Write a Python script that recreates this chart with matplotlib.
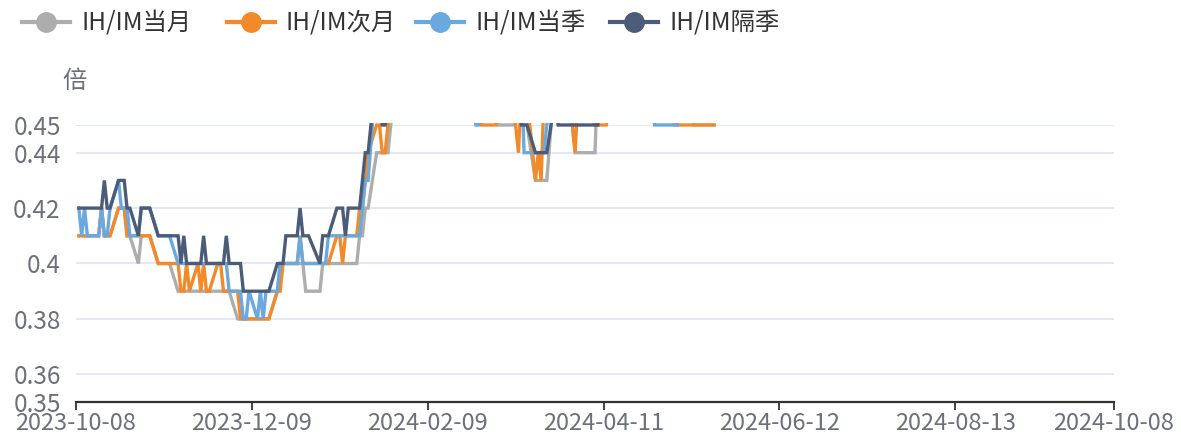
import matplotlib
matplotlib.use("Agg")
import matplotlib.pyplot as plt
import pandas as pd
from matplotlib.lines import Line2D
from matplotlib.patches import Rectangle

plt.rcParams['font.family'] = ['Noto Sans CJK SC', 'DejaVu Sans']

# ---------------- data ----------------
# trading days (China futures calendar) 2023-10-09 .. 2024-05-20
start_date = '2023-10-09'
end_date = '2024-05-20'
holidays = ['2024-01-01', '2024-02-09', '2024-02-12', '2024-02-13', '2024-02-14',
            '2024-02-15', '2024-02-16', '2024-04-04', '2024-04-05',
            '2024-05-01', '2024-05-02', '2024-05-03']
dates = [d for d in pd.bdate_range(start_date, end_date)
         if d.strftime('%Y-%m-%d') not in holidays]

series_names = ['IH/IM当月', 'IH/IM次月', 'IH/IM当季', 'IH/IM隔季']

ih_im_current_month = [
    0.41, 0.41, 0.41, 0.41, 0.41, 0.41, 0.42, 0.41, 0.41, 0.41,
    0.42, 0.42, 0.42, 0.41, 0.41, 0.40, 0.41, 0.41, 0.41, 0.41,
    0.40, 0.40, 0.40, 0.40, 0.40, 0.39, 0.39, 0.39, 0.39, 0.39,
    0.39, 0.39, 0.39, 0.39, 0.39, 0.39, 0.39, 0.39, 0.39, 0.39,
    0.38, 0.38, 0.38, 0.38, 0.38, 0.38, 0.38, 0.38, 0.38, 0.38,
    0.39, 0.40, 0.40, 0.40, 0.40, 0.40, 0.40, 0.40, 0.39, 0.39,
    0.39, 0.40, 0.40, 0.40, 0.40, 0.40, 0.40, 0.40, 0.40, 0.40,
    0.41, 0.41, 0.42, 0.42, 0.44, 0.44, 0.44, 0.44, 0.44, 0.47,
    0.47, 0.47, 0.47, 0.47, 0.47, 0.47, 0.47, 0.47, 0.47, 0.47,
    0.47, 0.47, 0.47, 0.47, 0.47, 0.47, 0.47, 0.47, 0.46, 0.45,
    0.45, 0.45, 0.45, 0.45, 0.46, 0.46, 0.46, 0.45, 0.43, 0.43,
    0.43, 0.43, 0.43, 0.47, 0.47, 0.47, 0.47, 0.47, 0.44, 0.44,
    0.44, 0.44, 0.47, 0.47, 0.47, 0.47, 0.47, 0.47, 0.47, 0.47,
    0.47, 0.47, 0.47, 0.47, 0.47, 0.47, 0.47, 0.47, 0.47, 0.47,
    0.47, 0.47, 0.46, 0.45, 0.45, 0.45, 0.45, 0.45, 0.45,
]

ih_im_next_month = [
    0.41, 0.41, 0.41, 0.41, 0.41, 0.41, 0.42, 0.41, 0.41, 0.41,
    0.42, 0.42, 0.42, 0.41, 0.41, 0.41, 0.41, 0.41, 0.41, 0.41,
    0.40, 0.40, 0.40, 0.40, 0.40, 0.40, 0.39, 0.39, 0.40, 0.39,
    0.40, 0.39, 0.40, 0.39, 0.39, 0.40, 0.40, 0.39, 0.39, 0.39,
    0.39, 0.38, 0.38, 0.38, 0.38, 0.38, 0.38, 0.38, 0.38, 0.38,
    0.39, 0.39, 0.40, 0.40, 0.40, 0.40, 0.41, 0.40, 0.40, 0.40,
    0.40, 0.40, 0.40, 0.40, 0.41, 0.41, 0.40, 0.41, 0.41, 0.41,
    0.42, 0.42, 0.43, 0.44, 0.45, 0.45, 0.44, 0.44, 0.45, 0.47,
    0.47, 0.47, 0.47, 0.47, 0.47, 0.47, 0.47, 0.47, 0.47, 0.47,
    0.47, 0.47, 0.47, 0.47, 0.47, 0.45, 0.45, 0.45, 0.45, 0.46,
    0.46, 0.46, 0.46, 0.45, 0.44, 0.46, 0.46, 0.46, 0.43, 0.44,
    0.43, 0.46, 0.47, 0.47, 0.47, 0.47, 0.47, 0.47, 0.44, 0.46,
    0.46, 0.45, 0.45, 0.45, 0.45, 0.45, 0.47, 0.47, 0.47, 0.47,
    0.47, 0.47, 0.47, 0.47, 0.47, 0.47, 0.47, 0.47, 0.45, 0.45,
    0.45, 0.45, 0.45, 0.45, 0.45, 0.45, 0.45, 0.45, 0.45,
]

ih_im_current_quarter = [
    0.42, 0.41, 0.42, 0.41, 0.41, 0.41, 0.42, 0.41, 0.41, 0.42,
    0.43, 0.42, 0.42, 0.42, 0.41, 0.41, 0.42, 0.42, 0.42, 0.42,
    0.41, 0.41, 0.41, 0.41, 0.41, 0.40, 0.40, 0.40, 0.40, 0.40,
    0.40, 0.40, 0.40, 0.40, 0.40, 0.40, 0.40, 0.40, 0.40, 0.39,
    0.39, 0.39, 0.38, 0.38, 0.39, 0.38, 0.39, 0.38, 0.39, 0.39,
    0.39, 0.40, 0.40, 0.40, 0.40, 0.40, 0.41, 0.40, 0.40, 0.40,
    0.40, 0.40, 0.40, 0.41, 0.41, 0.41, 0.41, 0.41, 0.41, 0.41,
    0.41, 0.42, 0.43, 0.43, 0.47, 0.47, 0.47, 0.47, 0.47, 0.47,
    0.47, 0.47, 0.47, 0.47, 0.47, 0.47, 0.47, 0.47, 0.47, 0.47,
    0.47, 0.47, 0.47, 0.45, 0.45, 0.47, 0.47, 0.47, 0.47, 0.47,
    0.47, 0.47, 0.47, 0.47, 0.47, 0.47, 0.44, 0.44, 0.44, 0.44,
    0.44, 0.44, 0.45, 0.47, 0.47, 0.47, 0.47, 0.47, 0.47, 0.47,
    0.47, 0.47, 0.47, 0.47, 0.47, 0.47, 0.47, 0.47, 0.47, 0.47,
    0.47, 0.47, 0.47, 0.47, 0.47, 0.47, 0.45, 0.45, 0.45, 0.45,
    0.46, 0.46, 0.46, 0.46, 0.46, 0.46, 0.46, 0.46, 0.46,
]

ih_im_next_quarter = [
    0.42, 0.42, 0.42, 0.42, 0.42, 0.42, 0.42, 0.43, 0.42, 0.42,
    0.43, 0.43, 0.43, 0.42, 0.42, 0.41, 0.42, 0.42, 0.42, 0.42,
    0.41, 0.41, 0.41, 0.41, 0.41, 0.41, 0.40, 0.41, 0.40, 0.40,
    0.40, 0.40, 0.41, 0.40, 0.40, 0.40, 0.40, 0.40, 0.41, 0.40,
    0.40, 0.40, 0.39, 0.39, 0.39, 0.39, 0.39, 0.39, 0.39, 0.39,
    0.40, 0.40, 0.40, 0.41, 0.41, 0.41, 0.42, 0.41, 0.41, 0.41,
    0.40, 0.41, 0.41, 0.41, 0.42, 0.42, 0.42, 0.41, 0.42, 0.42,
    0.42, 0.43, 0.44, 0.44, 0.47, 0.46, 0.45, 0.45, 0.46, 0.47,
    0.47, 0.47, 0.47, 0.47, 0.47, 0.47, 0.47, 0.47, 0.47, 0.47,
    0.47, 0.47, 0.47, 0.47, 0.47, 0.47, 0.47, 0.47, 0.47, 0.47,
    0.47, 0.47, 0.47, 0.47, 0.47, 0.45, 0.45, 0.45, 0.44, 0.44,
    0.44, 0.44, 0.44, 0.46, 0.45, 0.45, 0.45, 0.45, 0.45, 0.45,
    0.45, 0.45, 0.45, 0.47, 0.47, 0.47, 0.47, 0.47, 0.47, 0.47,
    0.47, 0.47, 0.47, 0.47, 0.47, 0.47, 0.47, 0.47, 0.47, 0.47,
    0.47, 0.47, 0.47, 0.47, 0.47, 0.47, 0.47, 0.47, 0.47,
]

series_values = [ih_im_current_month, ih_im_next_month,
                 ih_im_current_quarter, ih_im_next_quarter]
series_colors = ['#ADADAD', '#F28A2B', '#6AA8E0', '#4B5B78']

y_ticks = [0.35, 0.36, 0.38, 0.40, 0.42, 0.44, 0.45]
y_tick_labels = ['0.35', '0.36', '0.38', '0.4', '0.42', '0.44', '0.45']
x_tick_labels = ['2023-10-08', '2023-12-09', '2024-02-09', '2024-04-11',
                 '2024-06-12', '2024-08-13', '2024-10-08']
x_min, x_max = '2023-10-08', '2024-10-08'
y_min, y_max = 0.35, 0.45
y_axis_name = '倍'

# ---------------- figure ----------------
W, H = 1181, 438
fig = plt.figure(figsize=(W / 100, H / 100), dpi=100)
L, R, T, B = 76, 1114, 125, 402
ax = fig.add_axes([L / W, 1 - B / H, (R - L) / W, (B - T) / H])

clip = Rectangle((0, -0.02), 1, 1.02 + 2.0 / (B - T), transform=ax.transAxes,
                 facecolor='none', edgecolor='none')
ax.add_patch(clip)

for name, vals, col in zip(series_names, series_values, series_colors):
    ln, = ax.plot(dates, vals, color=col, lw=2.4, solid_joinstyle='miter',
                  label=name, zorder=3)
    ln.set_clip_path(clip)

ax.set_xlim(pd.Timestamp(x_min), pd.Timestamp(x_max))
ax.set_ylim(y_min, y_max)

ax.set_yticks(y_ticks)
ax.set_yticklabels(y_tick_labels)
ax.set_xticks(pd.to_datetime(x_tick_labels))
ax.set_xticklabels(x_tick_labels)

ax.yaxis.grid(True, color='#E0E6F1', lw=1.3, zorder=0)
ax.set_axisbelow(True)
for s in ['left', 'right', 'top']:
    ax.spines[s].set_visible(False)
ax.spines['bottom'].set_color('#333333')
ax.spines['bottom'].set_linewidth(1.6)
ax.spines['bottom'].set_zorder(4)

ax.tick_params(axis='y', length=0, pad=11, labelsize=17.5, labelcolor='#6E7079')
ax.tick_params(axis='x', length=6, width=1.3, color='#333333', pad=1,
               labelsize=17, labelcolor='#6E7079')

fig.text(74 / W, 1 - 81 / H, y_axis_name, ha='center', va='center',
         fontsize=17.5, color='#6E7079')

# legend (manual)
leg_icon_x = [22, 227, 416, 610]
leg_y = 22
for x0, name, col in zip(leg_icon_x, series_names, series_colors):
    fig.add_artist(Line2D([x0 / W, (x0 + 48) / W], [1 - leg_y / H, 1 - leg_y / H],
                          transform=fig.transFigure, color=col, lw=3))
    fig.add_artist(Line2D([(x0 + 24) / W], [1 - leg_y / H], transform=fig.transFigure,
                          marker='o', markersize=14, color=col, lw=0))
    fig.text((x0 + 59) / W, 1 - leg_y / H, name, ha='left', va='center',
             fontsize=17.5, color='#333333')

fig.savefig('out.png', dpi=100)
